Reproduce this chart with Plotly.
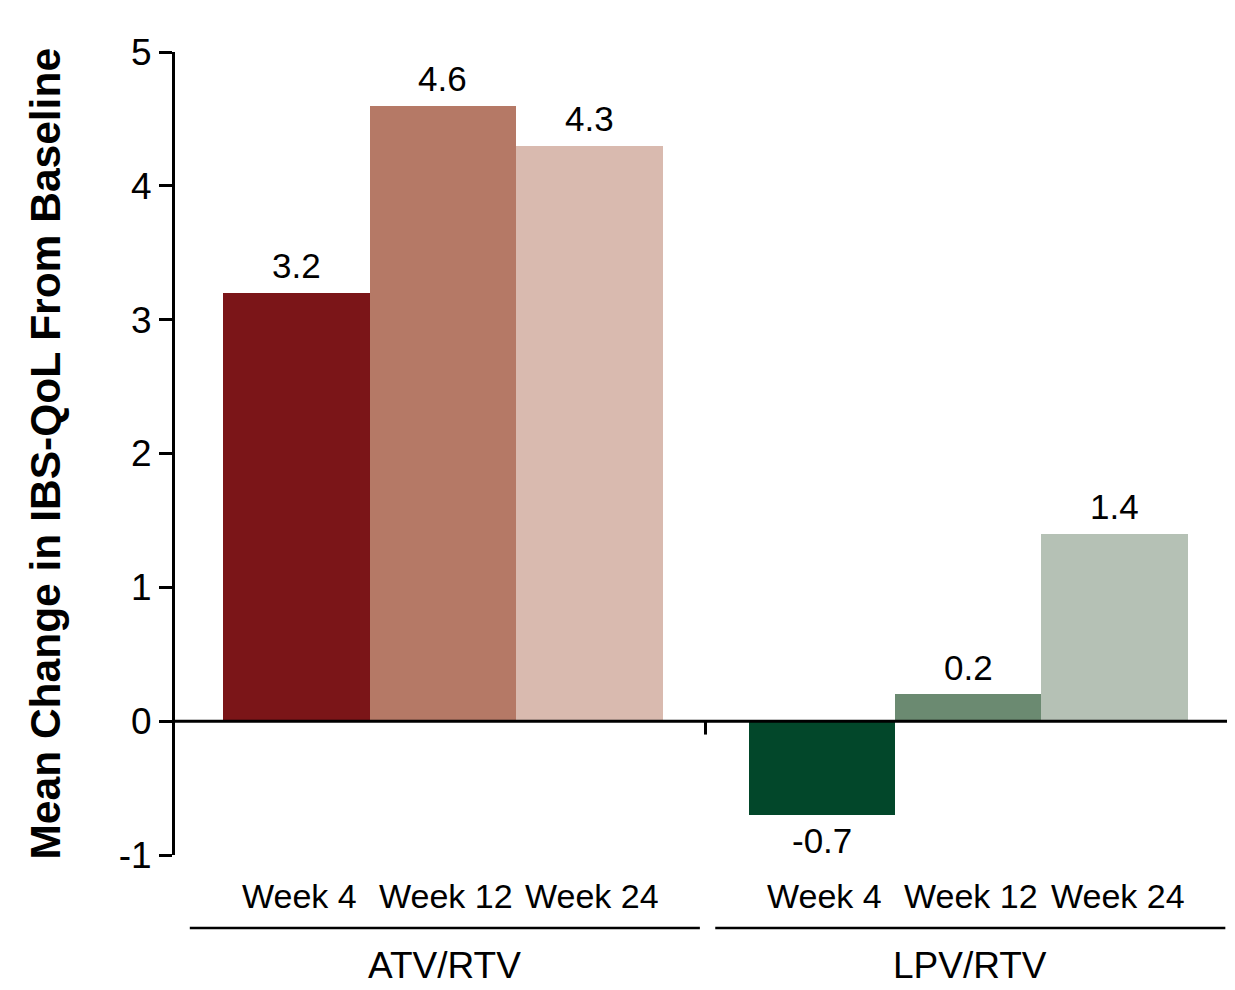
import plotly.graph_objects as go

groups = ["ATV/RTV", "LPV/RTV"]
weeks = ["Week 4", "Week 12", "Week 24"]
atv_values = [3.2, 4.6, 4.3]
lpv_values = [-0.7, 0.2, 1.4]
atv_colors = ["#7B1518", "#B57966", "#D9BAAF"]
lpv_colors = ["#02472A", "#6B8A71", "#B5C1B5"]
y_ticks = [-1, 0, 1, 2, 3, 4, 5]
y_title = "Mean Change in IBS-QoL From Baseline"

FONT = "Liberation Sans, Arial, Helvetica, sans-serif"
GAP = 0.587  # gap between groups, in bar widths

def xpos(g, i):
    return g * (len(weeks) + GAP) + i

fig = go.Figure()
annotations = []
shapes = []
for g, (vals, cols) in enumerate([(atv_values, atv_colors), (lpv_values, lpv_colors)]):
    xs = [xpos(g, i) for i in range(len(weeks))]
    fig.add_trace(go.Bar(
        x=xs,
        y=vals,
        width=1.0,
        marker=dict(color=cols, line=dict(width=0)),
        showlegend=False,
        hoverinfo="skip",
    ))
    for x, v in zip(xs, vals):
        annotations.append(dict(
            x=x, y=v, xref="x", yref="y", text=f"{v:.1f}", showarrow=False,
            xanchor="center", yanchor="middle", yshift=27 if v >= 0 else -26,
            font=dict(family=FONT, size=35, color="black"),
        ))

for g, grp in enumerate(groups):
    for i, w in enumerate(weeks):
        annotations.append(dict(
            x=xpos(g, i), y=-0.051, xref="x", yref="paper",
            text=w, showarrow=False, xanchor="center", yanchor="middle",
            xshift=3,
            font=dict(family=FONT, size=34, color="black"),
        ))
    first = xpos(g, 0)
    last = xpos(g, len(weeks) - 1)
    x0 = first - 0.727
    x1 = last + 0.755
    shapes.append(dict(
        type="line", xref="x", yref="paper",
        x0=x0, x1=x1, y0=-0.0909, y1=-0.0909,
        line=dict(color="black", width=2.5),
    ))
    annotations.append(dict(
        x=(x0 + x1) / 2, y=-0.137, xref="x", yref="paper",
        text=grp, showarrow=False, xanchor="center", yanchor="middle",
        font=dict(family=FONT, size=37, color="black"),
    ))

# zero line across the plot
shapes.append(dict(type="line", xref="paper", yref="y", x0=0, x1=1, y0=0, y1=0,
                   line=dict(color="black", width=3), layer="above"))
# divider tick between groups
mid = (xpos(0, len(weeks) - 1) + 0.5 + xpos(1, 0) - 0.5) / 2
shapes.append(dict(type="line", xref="x", yref="y", x0=mid, x1=mid, y0=0, y1=-0.1,
                   line=dict(color="black", width=3), layer="above"))

annotations.append(dict(
    x=-0.1226, y=0.5, xref="paper", yref="paper", text="<b>" + y_title + "</b>",
    textangle=-90, showarrow=False, xanchor="center", yanchor="middle",
    font=dict(family=FONT, size=42.5, color="black"),
))

fig.update_layout(
    width=1227, height=982,
    margin=dict(l=167, r=0, t=44, b=135),
    paper_bgcolor="white", plot_bgcolor="white",
    bargap=0,
    xaxis=dict(range=[-0.828, 6.408], visible=False),
    yaxis=dict(
        range=[-1, 5], tickvals=y_ticks, ticktext=[str(t) for t in y_ticks],
        showgrid=False, zeroline=False,
        showline=True, linecolor="black", linewidth=3,
        ticks="outside", ticklen=13, tickwidth=3, tickcolor="black",
        tickfont=dict(family=FONT, size=37, color="black"),
    ),
    annotations=annotations,
    shapes=shapes,
)

fig.write_html("out.html")
